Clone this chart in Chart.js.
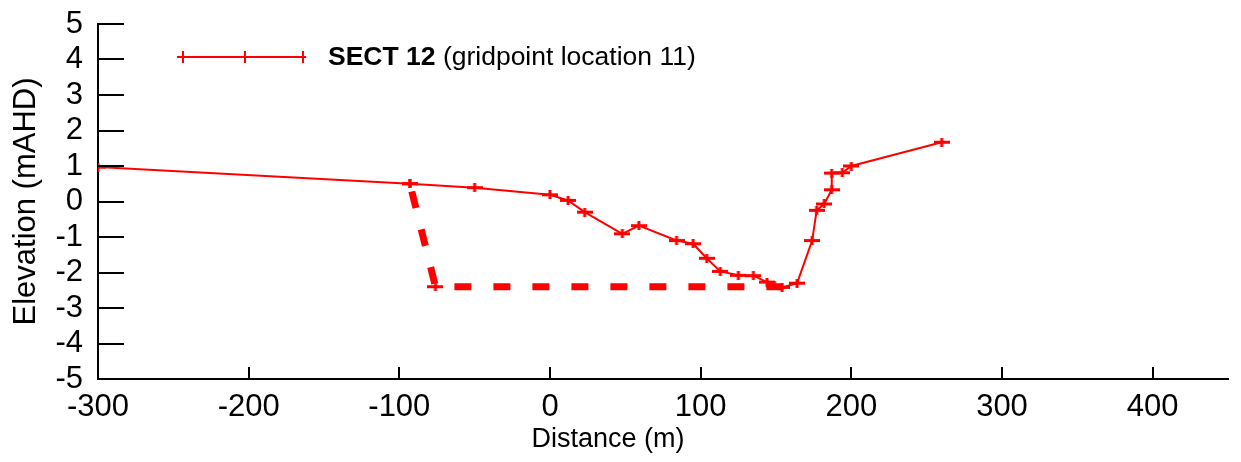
<!DOCTYPE html>
<html>
<head>
<meta charset="utf-8">
<script src="https://cdn.jsdelivr.net/npm/chart.js@4.4.1/dist/chart.umd.min.js"></script>
<style>
  html, body { margin: 0; padding: 0; background: #fff; }
  #wrap { width: 1241px; height: 462px; position: relative; }
</style>
</head>
<body>
<div id="wrap"><canvas id="sectionChart"></canvas></div>
<script>
// surveyed cross-section, distance (m) vs elevation (mAHD)
const sectDistance = [-300, -93, -50, 0, 12, 23, 48, 59, 84, 95, 104, 113, 125, 135, 144, 149, 154, 164, 174, 177, 182, 187, 187, 194, 200, 260];
const sectElevation = [0.97, 0.50, 0.39, 0.19, 0.03, -0.30, -0.91, -0.68, -1.10, -1.19, -1.60, -1.97, -2.08, -2.09, -2.27, -2.38, -2.42, -2.30, -1.10, -0.25, -0.07, 0.33, 0.80, 0.81, 1.00, 1.67];

// schematised channel (dashed)
const channelDistance = [-93, -76, 156];
const channelElevation = [0.50, -2.40, -2.40];

const xTicks = [-300, -200, -100, 0, 100, 200, 300, 400];
const yTicks = [5, 4, 3, 2, 1, 0, -1, -2, -3, -4, -5];

const RED = '#ff0000';
const FONT = '"Liberation Sans", Arial, sans-serif';

function toPoints(xs, ys) {
    return xs.map((v, i) => ({ x: v, y: ys[i] }));
}

// flat "+" marker like the plotting program uses
function makeMarker() {
    const c = document.createElement('canvas');
    c.width = 16; c.height = 9;
    const g = c.getContext('2d');
    g.fillStyle = RED;
    g.fillRect(0, 3, 16, 3);
    g.fillRect(6.5, 0, 3, 9);
    return c;
}
const marker = makeMarker();

// keep the plot box fixed, labels may hang over the edges
function noEdgePadding(s) {
    s.paddingTop = 0;
    s.paddingBottom = 0;
    s.paddingLeft = 0;
    s.paddingRight = 0;
}

const overlay = {
    id: 'overlay',
    afterDatasetsDraw(chart) {
        const { ctx, chartArea: a, scales: { x, y } } = chart;
        ctx.save();

        // inward tick marks
        ctx.strokeStyle = '#000';
        ctx.lineWidth = 2;
        ctx.beginPath();
        y.ticks.forEach(t => {
            const py = Math.round(y.getPixelForValue(t.value));
            ctx.moveTo(a.left, py);
            ctx.lineTo(a.left + 26, py);
        });
        x.ticks.forEach(t => {
            const px = Math.round(x.getPixelForValue(t.value));
            ctx.moveTo(px, a.bottom);
            ctx.lineTo(px, a.bottom - 12);
        });
        ctx.stroke();

        // legend
        const ly = 57;
        ctx.strokeStyle = RED;
        ctx.lineWidth = 2;
        ctx.beginPath();
        ctx.moveTo(177, ly);
        ctx.lineTo(306, ly);
        [183, 245, 303].forEach(mx => {
            ctx.moveTo(mx, ly - 6);
            ctx.lineTo(mx, ly + 6);
        });
        ctx.stroke();

        ctx.fillStyle = '#000';
        ctx.textBaseline = 'middle';
        ctx.textAlign = 'left';
        ctx.font = 'bold 26.5px ' + FONT;
        const bold = 'SECT 12';
        ctx.fillText(bold, 328, ly + 1);
        const w = ctx.measureText(bold).width;
        ctx.font = '26.5px ' + FONT;
        ctx.fillText(' (gridpoint location 11)', 328 + w, ly + 1);

        // x axis title
        ctx.font = '27px ' + FONT;
        ctx.textAlign = 'center';
        ctx.fillText('Distance (m)', 608, 440);
        ctx.restore();
    }
};

new Chart(document.getElementById('sectionChart'), {
    type: 'scatter',
    data: {
        datasets: [
            {
                label: 'SECT 12',
                data: toPoints(sectDistance, sectElevation),
                showLine: true,
                borderColor: RED,
                backgroundColor: RED,
                borderWidth: 2,
                pointStyle: marker,
                pointRadius: 6,
                tension: 0
            },
            {
                label: 'channel',
                data: toPoints(channelDistance, channelElevation),
                showLine: true,
                borderColor: RED,
                backgroundColor: RED,
                borderWidth: 7,
                borderDash: [17, 22],
                borderDashOffset: -8,
                borderCapStyle: 'butt',
                pointStyle: marker,
                pointRadius: [6, 6, 0],
                tension: 0
            }
        ]
    },
    options: {
        responsive: true,
        maintainAspectRatio: false,
        animation: false,
        events: [],
        layout: { padding: { top: 24, right: 8, left: 0, bottom: 0 } },
        plugins: {
            legend: { display: false },
            tooltip: { enabled: false }
        },
        scales: {
            x: {
                type: 'linear',
                min: -300,
                max: 450,
                afterBuildTicks: s => { s.ticks = xTicks.map(v => ({ value: v })); },
                afterFit: s => { s.height = 83; noEdgePadding(s); },
                grid: { display: false, drawTicks: false },
                border: { display: true, color: '#000', width: 2 },
                ticks: {
                    color: '#000',
                    padding: 10,
                    maxRotation: 0,
                    autoSkip: false,
                    font: { family: FONT, size: 31 }
                }
            },
            y: {
                type: 'linear',
                min: -5,
                max: 5,
                afterBuildTicks: s => { s.ticks = yTicks.map(v => ({ value: v })); },
                afterFit: s => { s.width = 98; noEdgePadding(s); },
                grid: { display: false, drawTicks: false },
                border: { display: true, color: '#000', width: 2 },
                title: {
                    display: true,
                    text: 'Elevation (mAHD)',
                    color: '#000',
                    padding: { top: 8, bottom: 0 },
                    font: { family: FONT, size: 31 }
                },
                ticks: {
                    color: '#000',
                    padding: 15,
                    autoSkip: false,
                    font: { family: FONT, size: 31 }
                }
            }
        }
    },
    plugins: [overlay]
});
</script>
</body>
</html>
